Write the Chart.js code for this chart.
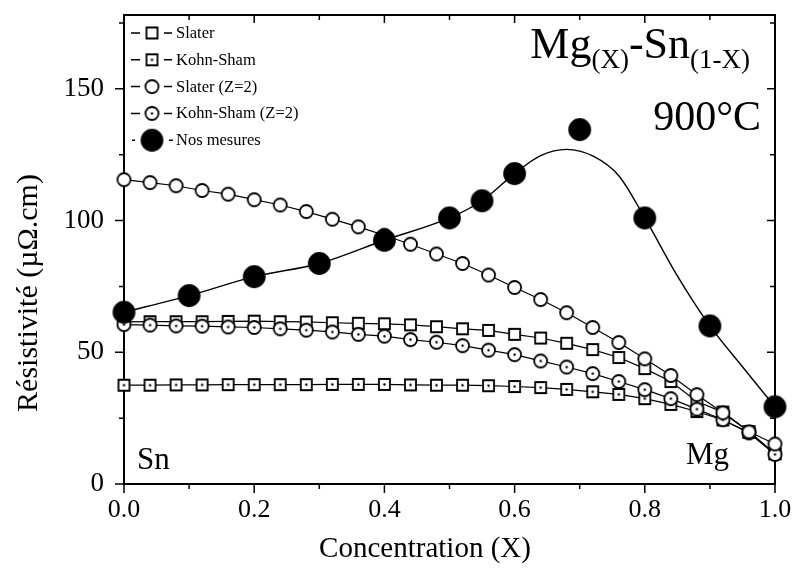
<!DOCTYPE html>
<html lang="fr">
<head>
<meta charset="UTF-8">
<title>Mg-Sn résistivité 900°C</title>
<script src="https://cdn.jsdelivr.net/npm/chart.js"></script>
<style>
  html, body { margin: 0; padding: 0; background: #fff; }
</style>
</head>
<body>
<canvas id="chart" width="796" height="574"></canvas>
<script>
// concentrations des calculs (pas de 0.04)
const xCalc = [0, 0.04, 0.08, 0.12, 0.16, 0.2, 0.24, 0.28, 0.32, 0.36, 0.4, 0.44, 0.48,
               0.52, 0.56, 0.6, 0.64, 0.68, 0.72, 0.76, 0.8, 0.84, 0.88, 0.92, 0.96, 1.0];
const slater      = [61.5, 61.6, 61.6, 61.6, 61.7, 61.8, 61.6, 61.5, 61.2, 61.0, 60.8, 60.4, 59.7,
                     58.9, 58.3, 56.8, 55.4, 53.4, 51.0, 48.0, 43.8, 38.9, 31.3, 27.3, 19.9, 11.5];
const kohnSham    = [37.5, 37.5, 37.6, 37.6, 37.7, 37.7, 37.7, 37.7, 37.8, 37.8, 37.8, 37.6, 37.5,
                     37.5, 37.3, 37.0, 36.6, 35.9, 35.0, 34.0, 32.4, 30.2, 27.5, 24.3, 19.6, 11.5];
const slaterZ2    = [115.5, 114.4, 113.2, 111.4, 110.0, 107.9, 105.9, 103.4, 100.5, 97.6, 94.4, 91.0, 87.3,
                     83.7, 79.3, 74.6, 70.0, 65.0, 59.4, 53.7, 47.5, 41.2, 33.9, 27.0, 19.8, 15.2];
const kohnShamZ2  = [60.5, 60.3, 60.0, 59.9, 59.6, 59.4, 58.9, 58.4, 57.7, 56.8, 56.1, 54.8, 53.8,
                     52.5, 50.8, 49.1, 46.7, 44.4, 41.9, 38.9, 35.8, 32.4, 28.4, 24.4, 19.4, 11.2];

// nos mesures
const xMes    = [0, 0.1, 0.2, 0.3, 0.4, 0.5, 0.55, 0.6, 0.7, 0.8, 0.9, 1.0];
const mesures = [65.2, 71.5, 78.7, 83.7, 92.5, 101, 107.5, 117.8, 134.5, 101, 60, 29.3];

// courbe tracée à la main à travers les mesures
const xFit = [0, 0.1, 0.2, 0.3, 0.4, 0.5, 0.55, 0.6, 0.64, 0.68, 0.72, 0.76, 0.8, 0.85, 0.9, 0.95, 1.0];
const fit  = [65.2, 71.5, 78.7, 83.7, 92.5, 101, 107.5, 117.8, 124.6, 127, 124.5, 117, 101, 79, 60, 44.5, 29.3];

// graduations
const xTicks = [0, 0.2, 0.4, 0.6, 0.8, 1.0];
const xMinor = [0.1, 0.3, 0.5, 0.7, 0.9];
const yTicks = [0, 50, 100, 150];
const yMinor = [25, 75, 125, 175];

const SERIF = '"Liberation Serif", "DejaVu Serif", serif';

function pts(xs, ys) {
    return xs.map((x, i) => ({ x: x, y: ys[i] }));
}

// symboles dessinés dans un petit canvas
function marker(shape, size, fill, dot) {
    const c = document.createElement('canvas');
    c.width = c.height = size + 4;
    const g = c.getContext('2d');
    const m = (size + 4) / 2;
    g.lineWidth = 1.8;
    g.strokeStyle = '#000';
    g.fillStyle = fill;
    g.beginPath();
    if (shape === 'circle') g.arc(m, m, size / 2, 0, Math.PI * 2);
    else g.rect(m - size / 2, m - size / 2, size, size);
    g.fill();
    g.stroke();
    if (dot) {
        g.fillStyle = '#000';
        g.beginPath();
        g.arc(m, m, 1.2, 0, Math.PI * 2);
        g.fill();
    }
    return c;
}

const mkSlater = marker('rect', 11, '#fff', false);
const mkKS = marker('rect', 11, '#fff', true);
const mkSlaterZ2 = marker('circle', 13, '#fff', false);
const mkKSZ2 = marker('circle', 13, '#fff', true);
const mkMes = marker('circle', 21, '#000', false);

function calcSet(label, data, style, order) {
    return {
        label: label,
        data: pts(xCalc, data),
        borderColor: '#000',
        borderWidth: 1.2,
        pointStyle: style,
        pointRadius: 7,
        tension: 0,
        clip: false,
        order: order
    };
}

// cadre, graduations, légende, titres
const decor = {
    id: 'decor',
    beforeDatasetsDraw(chart) {
        const { ctx, chartArea: a, scales: { x, y } } = chart;
        ctx.save();
        ctx.strokeStyle = '#000';
        ctx.lineWidth = 2;
        ctx.strokeRect(a.left, a.top, a.right - a.left, a.bottom - a.top);
        ctx.lineWidth = 1.5;
        ctx.beginPath();
        xTicks.forEach(v => {
            const p = x.getPixelForValue(v);
            ctx.moveTo(p, a.bottom); ctx.lineTo(p, a.bottom + 9);
            ctx.moveTo(p, a.top); ctx.lineTo(p, a.top + 8);
        });
        xMinor.forEach(v => {
            const p = x.getPixelForValue(v);
            ctx.moveTo(p, a.bottom); ctx.lineTo(p, a.bottom + 5);
            ctx.moveTo(p, a.top); ctx.lineTo(p, a.top + 5);
        });
        yTicks.forEach(v => {
            const p = y.getPixelForValue(v);
            ctx.moveTo(a.left, p); ctx.lineTo(a.left - 9, p);
            ctx.moveTo(a.right, p); ctx.lineTo(a.right - 8, p);
        });
        yMinor.forEach(v => {
            const p = y.getPixelForValue(v);
            ctx.moveTo(a.left, p); ctx.lineTo(a.left - 5, p);
            ctx.moveTo(a.right, p); ctx.lineTo(a.right - 5, p);
        });
        ctx.stroke();
        ctx.restore();
    },
    afterDraw(chart) {
        const ctx = chart.ctx;
        ctx.save();
        ctx.fillStyle = '#000';
        ctx.strokeStyle = '#000';
        ctx.textBaseline = 'alphabetic';

        // légende
        const items = [
            ['Slater', mkSlater], ['Kohn-Sham', mkKS], ['Slater (Z=2)', mkSlaterZ2],
            ['Kohn-Sham (Z=2)', mkKSZ2], ['Nos mesures', mkMes]
        ];
        ctx.font = '16.5px ' + SERIF;
        ctx.lineWidth = 1.5;
        items.forEach((it, i) => {
            const yy = 33 + i * 26.8;
            const isMes = i === 4;
            ctx.beginPath();
            ctx.moveTo(isMes ? 132 : 131, yy); ctx.lineTo(isMes ? 135 : 140, yy);
            ctx.moveTo(isMes ? 169 : 164, yy); ctx.lineTo(isMes ? 173 : 172, yy);
            ctx.stroke();
            const img = it[1];
            ctx.drawImage(img, 152 - img.width / 2, yy - img.height / 2);
            ctx.fillText(it[0], 176, yy + 5);
        });

        // titre
        const big = '44px ' + SERIF, small = '27px ' + SERIF;
        const parts = [['Mg', big, 0], ['(X)', small, 10], ['-Sn', big, 0], ['(1-X)', small, 10]];
        let w = 0;
        parts.forEach(p => { ctx.font = p[1]; w += ctx.measureText(p[0]).width; });
        let xx = 750 - w;
        parts.forEach(p => {
            ctx.font = p[1];
            ctx.fillText(p[0], xx, 58 + p[2]);
            xx += ctx.measureText(p[0]).width;
        });

        ctx.font = '42px ' + SERIF;
        ctx.textAlign = 'right';
        ctx.fillText('900°C', 761, 130);

        ctx.font = '31px ' + SERIF;
        ctx.textAlign = 'left';
        ctx.fillText('Sn', 137, 469);
        ctx.fillText('Mg', 686, 464);

        // titres des axes
        ctx.textAlign = 'center';
        ctx.textBaseline = 'middle';
        ctx.font = '29px ' + SERIF;
        ctx.fillText('Concentration (X)', 425, 549);
        ctx.translate(29, 293);
        ctx.rotate(-Math.PI / 2);
        ctx.font = '30px ' + SERIF;
        ctx.fillText('Résistivité (µΩ.cm)', 0, 0);
        ctx.restore();
    }
};

const chart = new Chart(document.getElementById('chart'), {
    type: 'line',
    data: {
        datasets: [
            {
                label: 'Nos mesures',
                data: pts(xMes, mesures),
                showLine: false,
                pointStyle: mkMes,
                pointRadius: 11,
                clip: false,
                order: 0
            },
            {
                label: 'fit',
                data: pts(xFit, fit),
                borderColor: '#000',
                borderWidth: 1.4,
                pointRadius: 0,
                cubicInterpolationMode: 'monotone',
                clip: false,
                order: 1
            },
            calcSet('Slater', slater, mkSlater, 4),
            calcSet('Kohn-Sham', kohnSham, mkKS, 5),
            calcSet('Slater (Z=2)', slaterZ2, mkSlaterZ2, 2),
            calcSet('Kohn-Sham (Z=2)', kohnShamZ2, mkKSZ2, 3)
        ]
    },
    options: {
        responsive: false,
        animation: false,
        devicePixelRatio: 1,
        events: [],
        layout: { padding: { left: 0, right: 21, top: 15, bottom: 0 } },
        plugins: { legend: { display: false }, tooltip: { enabled: false } },
        scales: {
            x: {
                type: 'linear',
                min: 0,
                max: 1,
                afterFit: s => { s.height = 90; s.paddingLeft = 0; s.paddingRight = 0; },
                afterBuildTicks: s => { s.ticks = xTicks.map(v => ({ value: v })); },
                grid: { drawOnChartArea: false, color: 'rgba(0,0,0,0)', tickLength: 9 },
                border: { display: false },
                ticks: {
                    color: '#000',
                    padding: 2,
                    maxRotation: 0,
                    font: { family: SERIF, size: 26 },
                    callback: v => v.toFixed(1)
                }
            },
            y: {
                min: 0,
                max: 178,
                afterFit: s => { s.width = 124; s.paddingTop = 0; s.paddingBottom = 0; },
                afterBuildTicks: s => { s.ticks = yTicks.map(v => ({ value: v })); },
                grid: { drawOnChartArea: false, color: 'rgba(0,0,0,0)', tickLength: 9 },
                border: { display: false },
                ticks: {
                    color: '#000',
                    padding: 11,
                    font: { family: SERIF, size: 27 }
                }
            }
        }
    },
    plugins: [decor]
});
</script>
</body>
</html>
